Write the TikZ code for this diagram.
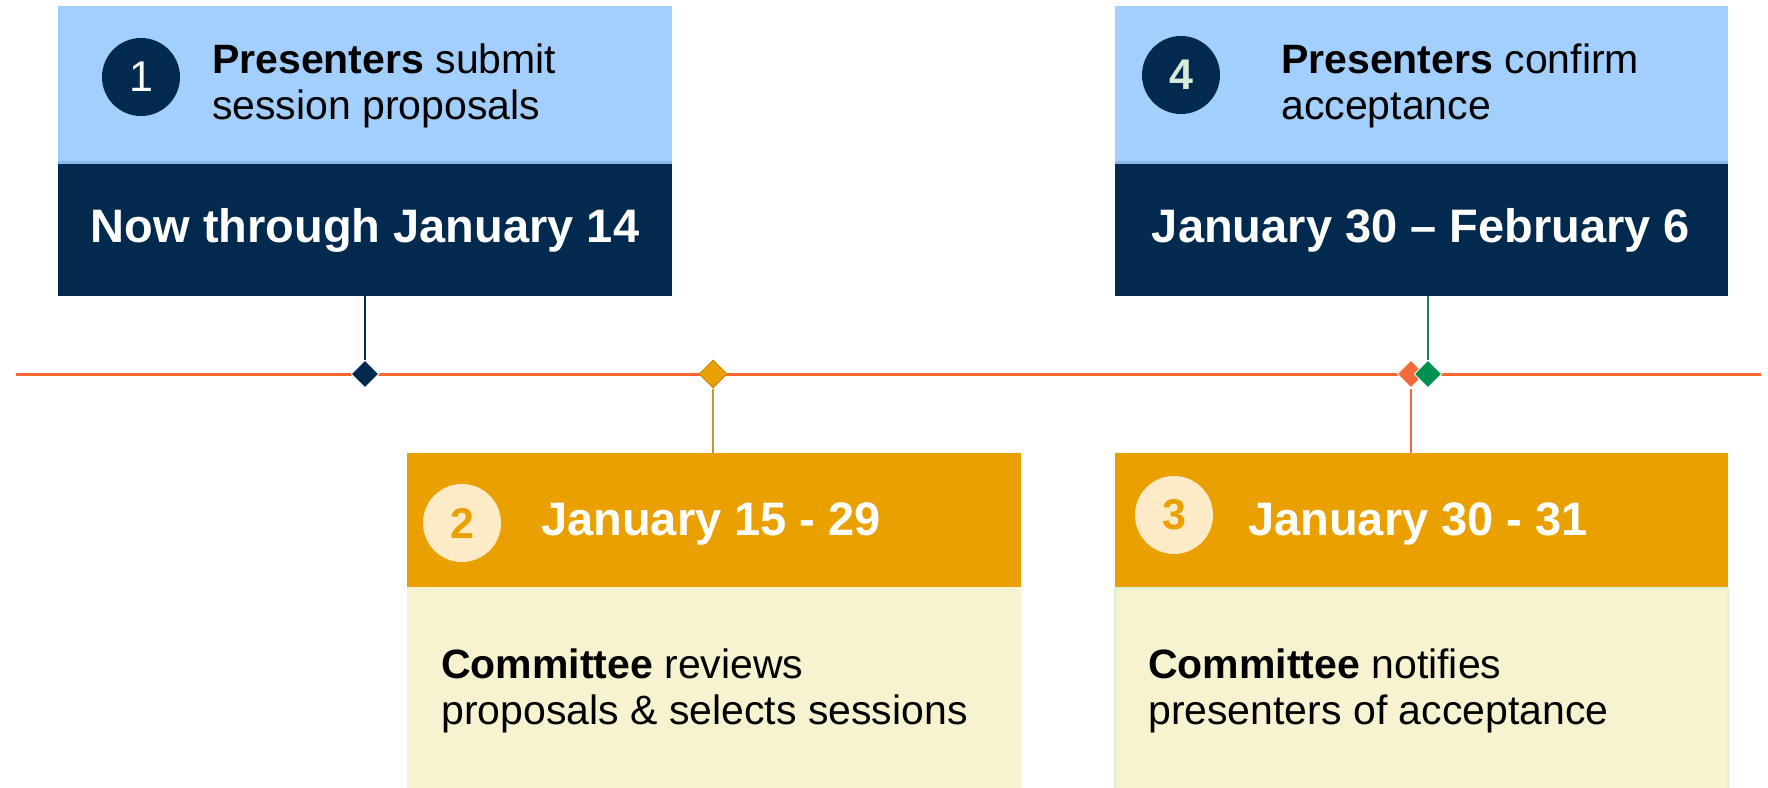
\documentclass[tikz,border=0pt]{standalone}
\usepackage{fontspec}
\setmainfont{Liberation Sans}
\usetikzlibrary{shapes.geometric}
\definecolor{lblue}{HTML}{A2CFFE}
\definecolor{sepblue}{HTML}{86BBEC}
\definecolor{navy}{HTML}{012A4E}
\definecolor{gold}{HTML}{EAA000}
\definecolor{golddark}{HTML}{C98C00}
\definecolor{cream}{HTML}{F7F2CF}
\definecolor{circcream}{HTML}{FDEBC8}
\definecolor{tline}{HTML}{FB6630}
\definecolor{dorange}{HTML}{F2693A}
\definecolor{dgreen}{HTML}{009150}
\definecolor{four}{HTML}{D6ECD9}
\definecolor{goldline}{HTML}{CF982E}
\definecolor{greenline}{HTML}{1F7A58}
\definecolor{creamedge}{HTML}{DDF0D2}
\begin{document}
\begin{tikzpicture}[x=1pt,y=-1pt,
 panel/.style={anchor=north west, inner sep=0pt, outer sep=0pt},
 body/.style={anchor=base west, inner sep=0pt, align=left, text=black, font=\fontsize{41}{46}\selectfont},
 datetext/.style={inner sep=0pt, text=white, font=\fontsize{47}{52}\selectfont\bfseries},
 num/.style={circle, minimum size=78pt, inner sep=0pt, font=\fontsize{43}{43}\selectfont},
 marker/.style={diamond, minimum size=28pt, inner sep=0pt, draw=white, line width=1pt},
 stem/.style={line width=1.5pt}]
\useasboundingbox (0,0) rectangle (1768,787);
\fill[white] (0,0) rectangle (1768,787);

% timeline
\coordinate (tl) at (16,374);
\coordinate (tr) at (1761,374);
\draw[tline, line width=3pt] (tl) -- (tr);

% box 1
\node[panel, fill=lblue, minimum width=614pt, minimum height=156pt] (b1top) at (58,6) {};
\node[panel, fill=navy, minimum width=614pt, minimum height=134pt] (b1bot) at (58,162) {};
\draw[sepblue, line width=3pt] (b1top.south west) -- (b1top.south east);
% box 4
\node[panel, fill=lblue, minimum width=613pt, minimum height=156pt] (b4top) at (1115,6) {};
\node[panel, fill=navy, minimum width=613pt, minimum height=134pt] (b4bot) at (1115,162) {};
\draw[sepblue, line width=3pt] (b4top.south west) -- (b4top.south east);
% box 2
\node[panel, fill=gold, minimum width=614pt, minimum height=134pt] (b2top) at (407,453) {};
\node[panel, fill=cream, minimum width=614pt, minimum height=201pt] (b2bot) at (407,587) {};
% box 3
\node[panel, fill=gold, minimum width=613pt, minimum height=135pt] (b3top) at (1115,453) {};
\node[panel, fill=cream, draw=creamedge, line width=1.5pt, minimum width=613pt, minimum height=201pt] (b3bot) at (1115,588) {};

% diamonds
\node[marker, fill=navy] (d1) at (365,374) {};
\node[marker, fill=gold, draw=golddark] (d2) at (713,374) {};
\node[marker, fill=dorange] (d3) at (1411,374) {};
\node[marker, fill=dgreen] (d4) at (1428,374) {};

% stems
\draw[stem, navy] (b1bot.south) -- (d1.north);
\draw[stem, goldline] (d2.south) -- (d2 |- b2top.north);
\draw[stem, dorange] (d3.south) -- (d3 |- b3top.north);
\draw[stem, greenline] (d4 |- b4bot.south) -- (d4.north);

% circles
\node[num, fill=navy, text=white] (c1) at (141,77) {1};
\node[num, fill=navy, text=four, font=\fontsize{43}{43}\selectfont\bfseries] (c4) at (1181,75) {4};
\node[num, fill=circcream, text=gold, font=\fontsize{43}{43}\selectfont\bfseries] (c2) at (462,523) {2};
\node[num, fill=circcream, text=gold, font=\fontsize{43}{43}\selectfont\bfseries] (c3) at (1174,515) {3};

% texts (base anchor = baseline of the last line)
\node[body] (t1) at (212,119) {\textbf{Presenters} submit\\session proposals};
\node[body] (t4) at (1281,119) {\textbf{Presenters} confirm\\acceptance};
\node[datetext, anchor=base] (dt1) at (365,242) {Now through January 14};
\node[datetext, anchor=base] (dt4) at (1421,242) {January 30 – February 6};
\node[datetext, anchor=base west] (dt2) at (541,535) {January 15 - 29};
\node[datetext, anchor=base west] (dt3) at (1248,535) {January 30 - 31};
\node[body] (t2) at (441,724) {\textbf{Committee} reviews\\proposals \& selects sessions};
\node[body] (t3) at (1148,724) {\textbf{Committee} notifies\\presenters of acceptance};
\end{tikzpicture}
\end{document}
